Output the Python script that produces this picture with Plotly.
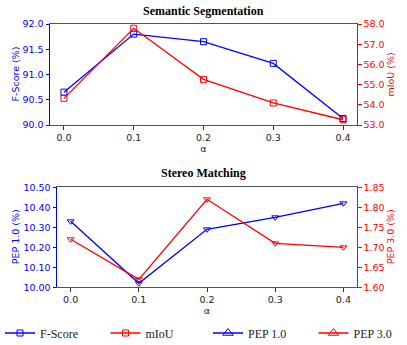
import plotly.graph_objects as go
from plotly.subplots import make_subplots

alpha = [0.0, 0.1, 0.2, 0.3, 0.4]
alpha_labels = ["0.0", "0.1", "0.2", "0.3", "0.4"]
f_score = [90.65, 91.80, 91.65, 91.22, 90.13]
miou = [54.32, 57.79, 55.26, 54.09, 53.26]
pep10 = [10.33, 10.02, 10.29, 10.35, 10.42]
pep30 = [1.72, 1.62, 1.82, 1.71, 1.70]

BLUE = "#0000ff"
RED = "#ff0000"
FS = 9.5
W, H = 407, 345

fig = make_subplots(rows=2, cols=1, specs=[[{"secondary_y": True}], [{"secondary_y": True}]])

lw = 1.3
ms = 6
fig.add_trace(go.Scatter(x=alpha, y=f_score, mode="lines+markers", line=dict(color=BLUE, width=lw),
                         marker=dict(symbol="square-open", size=ms, color=BLUE), name="F-Score",
                         legend="legend"),
              row=1, col=1, secondary_y=False)
fig.add_trace(go.Scatter(x=alpha, y=miou, mode="lines+markers", line=dict(color=RED, width=lw),
                         marker=dict(symbol="square-open", size=ms, color=RED), name="mIoU",
                         legend="legend"),
              row=1, col=1, secondary_y=True)
fig.add_trace(go.Scatter(x=alpha, y=pep10, mode="lines+markers", line=dict(color=BLUE, width=lw),
                         marker=dict(symbol="triangle-down-open", size=ms, color=BLUE), name="PEP 1.0", showlegend=False),
              row=2, col=1, secondary_y=False)
fig.add_trace(go.Scatter(x=alpha, y=pep30, mode="lines+markers", line=dict(color=RED, width=lw),
                         marker=dict(symbol="triangle-down-open", size=ms, color=RED), name="PEP 3.0", showlegend=False),
              row=2, col=1, secondary_y=True)
# legend-only entries with upward triangles
fig.add_trace(go.Scatter(x=[None], y=[None], mode="lines+markers", line=dict(color=BLUE, width=lw),
                         marker=dict(symbol="triangle-up-open", size=9, color=BLUE), name="PEP 1.0",
                         legend="legend2"),
              row=2, col=1, secondary_y=False)
fig.add_trace(go.Scatter(x=[None], y=[None], mode="lines+markers", line=dict(color=RED, width=lw),
                         marker=dict(symbol="triangle-up-open", size=9, color=RED), name="PEP 3.0",
                         legend="legend2"),
              row=2, col=1, secondary_y=True)

top_xdom = [50 / W, 357 / W]
bot_xdom = [57 / W, 357 / W]
top_dom = [(H - 125) / H, (H - 24) / H]
bot_dom = [(H - 287.3) / H, (H - 187.3) / H]

xcommon = dict(range=[-0.02, 0.42], tickvals=alpha, ticktext=alpha_labels, ticks="outside", ticklen=3.5,
               tickcolor="#333", showline=True, linecolor="#555", linewidth=1, mirror=True, automargin=False,
               showgrid=False, zeroline=False, tickfont=dict(family="DejaVu Sans", size=FS, color="#222"),
               title=dict(text="α", font=dict(family="DejaVu Sans", size=FS, color="#222"), standoff=1))

def yax(rng, dtick, fmt, color):
    return dict(range=rng, dtick=dtick, tick0=rng[0], tickformat=fmt, ticks="outside", ticklen=3.5,
                tickcolor=color, showline=True, linecolor=color, linewidth=1, showgrid=False, zeroline=False,
                automargin=False, tickfont=dict(family="DejaVu Sans", size=FS, color=color))

legfont = dict(family="Liberation Serif", size=12, color="#222")
fig.update_layout(
    width=W, height=H,
    margin=dict(l=0, r=0, t=0, b=0, autoexpand=False),
    paper_bgcolor="white", plot_bgcolor="white",
    xaxis=dict(**xcommon, domain=top_xdom, anchor="y"),
    xaxis2=dict(**xcommon, domain=bot_xdom, anchor="y3"),
    yaxis=dict(**yax([90, 92], 0.5, ".1f", BLUE), domain=top_dom),
    yaxis2=dict(**yax([53, 58], 1, ".1f", RED), domain=top_dom),
    yaxis3=dict(**yax([10, 10.5], 0.1, ".2f", BLUE), domain=bot_dom),
    yaxis4=dict(**yax([1.6, 1.85], 0.05, ".2f", RED), domain=bot_dom),
    legend=dict(orientation="h", x=0.0, xanchor="left", y=(H - 333) / H, yanchor="middle",
                font=legfont, entrywidth=60.5, entrywidthmode="pixels", bgcolor="rgba(0,0,0,0)"),
    legend2=dict(orientation="h", x=208 / W, xanchor="left", y=(H - 333) / H, yanchor="middle",
                 font=legfont, entrywidth=60.5, entrywidthmode="pixels", bgcolor="rgba(0,0,0,0)"),
    showlegend=True,
)
fig.layout.yaxis2.update(side="right", overlaying="y", anchor="x")
fig.layout.yaxis4.update(side="right", overlaying="y3", anchor="x2")

fig.add_annotation(text="<b>Semantic Segmentation</b>", xref="paper", yref="y domain", x=203 / W, y=1,
                   yanchor="bottom", yshift=4, showarrow=False,
                   font=dict(family="Liberation Serif", size=12, color="black"))
fig.add_annotation(text="<b>Stereo Matching</b>", xref="paper", yref="y3 domain", x=203 / W, y=1,
                   yanchor="bottom", yshift=5, showarrow=False,
                   font=dict(family="Liberation Serif", size=12, color="black"))

# y-axis titles
ytitles = [("F-Score (%)", BLUE, 15, top_dom), ("mIoU (%)", RED, 390, top_dom),
           ("PEP 1.0 (%)", BLUE, 15, bot_dom), ("PEP 3.0 (%)", RED, 390, bot_dom)]
for txt, col, px, dom in ytitles:
    fig.add_annotation(text=txt, xref="paper", yref="paper", x=px / W, y=(dom[0] + dom[1]) / 2,
                       xanchor="center", yanchor="middle", textangle=-90, showarrow=False,
                       font=dict(family="DejaVu Sans", size=FS, color=col))

fig.write_html("out.html", post_script="document.body.style.margin='0';",
               config={"displayModeBar": False})
